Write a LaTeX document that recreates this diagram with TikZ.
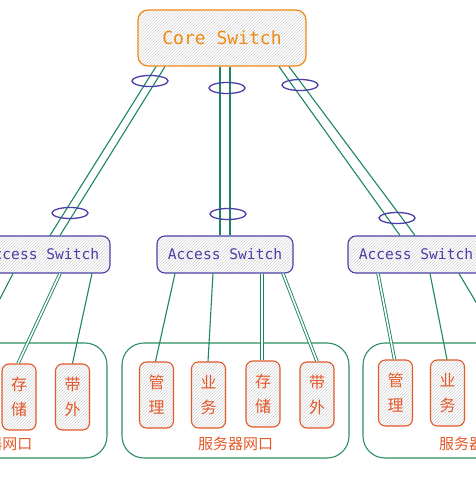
\documentclass[tikz,border=0pt]{standalone}
\usepackage{fontspec}
\newfontfamily\cjk{Noto Sans CJK SC}
\newfontfamily\mono{DejaVu Sans Mono}
\usetikzlibrary{patterns,shapes.geometric}
\definecolor{corecol}{HTML}{EE8A12}
\definecolor{acccol}{HTML}{4A3FA6}
\definecolor{linkcol}{HTML}{1E8760}
\definecolor{grpcol}{HTML}{2E8F62}
\definecolor{boxcol}{HTML}{E3592A}
\definecolor{hatchcol}{HTML}{D2D2D2}
\tikzset{
  corebox/.style={draw=corecol, line width=1.2pt, rounded corners=10pt, pattern=north east lines, pattern color=hatchcol,
    minimum width=168pt, minimum height=56pt, text=corecol, font=\mono\fontsize{18}{20}\selectfont, inner sep=0pt},
  accbox/.style={draw=acccol, line width=1.1pt, rounded corners=8pt, pattern=north east lines, pattern color=hatchcol,
    minimum width=136pt, minimum height=37pt, text=acccol, font=\mono\fontsize{14.6}{16}\selectfont, inner sep=0pt},
  srvbox/.style={draw=boxcol, line width=1.1pt, rounded corners=7pt, pattern=north east lines, pattern color=hatchcol,
    minimum width=34pt, minimum height=66pt, text=boxcol, align=center, font=\cjk\fontsize{16}{25}\selectfont, inner sep=0pt},
  grpbox/.style={draw=grpcol, line width=1.1pt, rounded corners=22pt, minimum width=227pt, minimum height=115pt, inner sep=0pt},
  grplabel/.style={text=boxcol, font=\cjk\fontsize{15}{18}\selectfont, inner sep=0pt},
  lag/.style={draw=acccol, line width=1.3pt, ellipse, minimum width=36pt, minimum height=11pt, inner sep=0pt},
  link/.style={draw=linkcol, line width=1.1pt},
  duallink/.style={draw=linkcol, line width=0.9pt, double=white, double distance=1.6pt}
}
\begin{document}
\begin{tikzpicture}[x=1pt,y=-1pt]
\useasboundingbox[fill=white] (0,0) rectangle (476,477);
\clip (0,0) rectangle (476,477);

% server groups
\node[grpbox] (gL) at (-6.5,400.5) {};
\node[grpbox] (gM) at (235.5,400.5) {};
\node[grpbox] (gR) at (476.5,400.5) {};
\node[grplabel] (lL) at (-5,444) {服务器网口};
\node[grplabel] (lM) at (235.5,444) {服务器网口};
\node[grplabel] (lR) at (476.5,444) {服务器网口};

% server port boxes
\node[srvbox] (L1) at (-85,396) {管\\理};
\node[srvbox] (L2) at (-33,396) {业\\务};
\node[srvbox] (L3) at (19,397) {存\\储};
\node[srvbox] (L4) at (72.5,397) {带\\外};
\node[srvbox] (M1) at (156.5,395) {管\\理};
\node[srvbox] (M2) at (208.5,395) {业\\务};
\node[srvbox] (M3) at (263,394) {存\\储};
\node[srvbox] (M4) at (317,395) {带\\外};
\node[srvbox] (R1) at (395.5,393) {管\\理};
\node[srvbox] (R2) at (447.5,393) {业\\务};
\node[srvbox] (R3) at (502,393) {存\\储};
\node[srvbox] (R4) at (556,393) {带\\外};

% switches
\node[corebox] (core) at (222,38) {Core Switch};
\node[accbox] (accL) at (42,254.5) {Access Switch};
\node[accbox] (accM) at (225,254.5) {Access Switch};
\node[accbox] (accR) at (416,254.5) {Access Switch};

% uplinks
\draw[link] ([xshift=-66pt]core.south) -- ([xshift=8pt]accL.north);
\draw[link] ([xshift=-57pt]core.south) -- ([xshift=18pt]accL.north);
\draw[link] ([xshift=-2pt]core.south) -- ([xshift=-5pt]accM.north);
\draw[link] ([xshift=8pt]core.south) -- ([xshift=5pt]accM.north);
\draw[link] ([xshift=57pt]core.south) -- ([xshift=-16pt]accR.north);
\draw[link] ([xshift=67pt]core.south) -- ([xshift=-1pt]accR.north);

% link aggregation marks
\node[lag] (e1) at (150,81) {};
\node[lag] (e2) at (70,213) {};
\node[lag] (e3) at (227,88) {};
\node[lag] (e4) at (228,214) {};
\node[lag] (e5) at (300,85) {};
\node[lag] (e6) at (397,218) {};

% downlinks
\draw[link] ([xshift=-29pt]accL.south) -- (L2.north);
\draw[duallink] ([xshift=18pt]accL.south) -- ([xshift=-1pt]L3.north);
\draw[link] ([xshift=50pt]accL.south) -- (L4.north);

\draw[link] ([xshift=-50pt]accM.south) -- ([xshift=-1pt]M1.north);
\draw[link] ([xshift=-12pt]accM.south) -- ([xshift=-0.5pt]M2.north);
\draw[duallink] ([xshift=37pt]accM.south) -- ([xshift=-1pt]M3.north);
\draw[duallink] ([xshift=58pt]accM.south) -- (M4.north);

\draw[duallink] ([xshift=-38pt]accR.south) -- ([xshift=-1pt]R1.north);
\draw[link] ([xshift=14pt]accR.south) -- ([xshift=-0.5pt]R2.north);
\draw[link] ([xshift=43pt]accR.south) -- ([xshift=8pt]R3.north);
\end{tikzpicture}
\end{document}
